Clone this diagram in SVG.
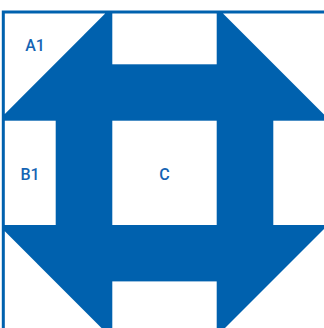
<svg xmlns="http://www.w3.org/2000/svg" width="324" height="328" viewBox="0 0 324 328">
  <style>
    .blue { fill: #0061AE; }
    .piece { fill: #FFFFFF; }
    .frame { fill: none; stroke: #0061AE; stroke-width: 3; }
    .lbl { font-family: Roboto, "Liberation Sans", sans-serif; font-size: 16px; font-weight: 500; fill: #1464B4; text-anchor: middle; }
  </style>
  <rect width="324" height="328" fill="#FFFFFF"/>
  <g id="block">
    <rect class="blue" x="3.3" y="12" width="330" height="330"/>
    <rect class="frame" x="3.3" y="12" width="330" height="330"/>
  </g>
  <g id="A1">
    <polygon class="piece" points="4.8,13.5 105.2,13.5 4.8,113.9"/>
    <text class="lbl" x="35" y="50.5">A1</text>
  </g>
  <g id="A2">
    <rect class="piece" x="112.3" y="13.5" width="104.4" height="50.8"/>
  </g>
  <g id="A3">
    <polygon class="piece" points="223,13.5 330,13.5 330,120.5"/>
  </g>
  <g id="B1">
    <rect class="piece" x="4.8" y="120.7" width="50.9" height="104.3"/>
    <text class="lbl" x="30" y="179.5">B1</text>
  </g>
  <g id="C">
    <rect class="piece" x="112.3" y="120.7" width="104.4" height="104.3"/>
    <text class="lbl" x="164.5" y="179.5">C</text>
  </g>
  <g id="B3">
    <rect class="piece" x="273.3" y="120.7" width="60" height="104.3"/>
  </g>
  <g id="D1">
    <polygon class="piece" points="4.8,231.3 4.8,340 113.5,340"/>
  </g>
  <g id="D2">
    <rect class="piece" x="112.3" y="281.4" width="104.4" height="60"/>
  </g>
  <g id="D3">
    <polygon class="piece" points="330,223 330,340 213,340"/>
  </g>
</svg>
